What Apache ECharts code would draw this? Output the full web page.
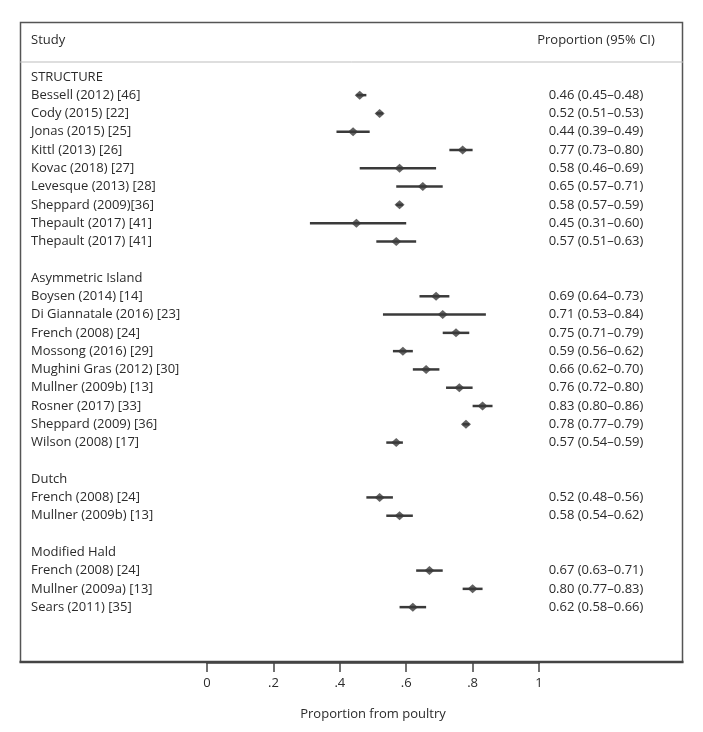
<!DOCTYPE html>
<html>
<head>
<meta charset="utf-8">
<script src="https://cdn.jsdelivr.net/npm/echarts@6/dist/echarts.min.js"></script>
<style>html,body{margin:0;padding:0;background:#fff}#c{width:703px;height:732px}</style>
</head>
<body>
<div id="c"></div>
<script>
// ---- data ----
var groupNames = ['STRUCTURE', 'Asymmetric Island', 'Dutch', 'Modified Hald'];
var studyNames = [
  'Bessell (2012) [46]', 'Cody (2015) [22]', 'Jonas (2015) [25]', 'Kittl (2013) [26]',
  'Kovac (2018) [27]', 'Levesque (2013) [28]', 'Sheppard (2009)[36]', 'Thepault (2017) [41]',
  'Thepault (2017) [41]',
  'Boysen (2014) [14]', 'Di Giannatale (2016) [23]', 'French (2008) [24]', 'Mossong (2016) [29]',
  'Mughini Gras (2012) [30]', 'Mullner (2009b) [13]', 'Rosner (2017) [33]', 'Sheppard (2009) [36]',
  'Wilson (2008) [17]',
  'French (2008) [24]', 'Mullner (2009b) [13]',
  'French (2008) [24]', 'Mullner (2009a) [13]', 'Sears (2011) [35]'
];
var studyGroup = [0,0,0,0,0,0,0,0,0, 1,1,1,1,1,1,1,1,1, 2,2, 3,3,3];
var estimate = [0.46,0.52,0.44,0.77,0.58,0.65,0.58,0.45,0.57, 0.69,0.71,0.75,0.59,0.66,0.76,0.83,0.78,0.57, 0.52,0.58, 0.67,0.80,0.62];
var lower    = [0.45,0.51,0.39,0.73,0.46,0.57,0.57,0.31,0.51, 0.64,0.53,0.71,0.56,0.62,0.72,0.80,0.77,0.54, 0.48,0.54, 0.63,0.77,0.58];
var upper    = [0.48,0.53,0.49,0.80,0.69,0.71,0.59,0.60,0.63, 0.73,0.84,0.79,0.62,0.70,0.80,0.86,0.79,0.59, 0.56,0.62, 0.71,0.83,0.66];
var xTicks = [0, 0.2, 0.4, 0.6, 0.8, 1];
var xTickLabels = ['0', '.2', '.4', '.6', '.8', '1'];
var headerLeft = 'Study';
var headerRight = 'Proportion (95% CI)';
var xTitle = 'Proportion from poultry';

// ---- layout of rows ----
var leftLabels = {}, rightLabels = {};
leftLabels[-2] = headerLeft; rightLabels[-2] = headerRight;
var studyRow = [];
var row = 0, lastGroup = -1;
for (var i = 0; i < studyNames.length; i++) {
  if (studyGroup[i] !== lastGroup) {
    if (lastGroup !== -1) row++; // blank line
    leftLabels[row] = groupNames[studyGroup[i]];
    row++;
    lastGroup = studyGroup[i];
  }
  studyRow.push(row);
  leftLabels[row] = studyNames[i];
  rightLabels[row] = estimate[i].toFixed(2) + ' (' + lower[i].toFixed(2) + '\u2013' + upper[i].toFixed(2) + ')';
  row++;
}
var ciData = [], ptData = [];
for (var j = 0; j < studyNames.length; j++) {
  ciData.push([lower[j], upper[j], studyRow[j]]);
  ptData.push([estimate[j], studyRow[j]]);
}

var FONT = '"Open Sans"';
var FS = 13;
var TXT = '#2b2b2b';
var chart = echarts.init(document.getElementById('c'), null, {renderer: 'canvas'});
chart.setOption({
  animation: false,
  backgroundColor: '#fff',
  grid: {left: 207, right: 164, top: 22, bottom: 70, containLabel: false},
  xAxis: {
    type: 'value', min: 0, max: 1, interval: 0.2, position: 'bottom',
    axisLine: {show: true, onZero: false, lineStyle: {color: '#444', width: 2.5}},
    axisTick: {show: true, inside: false, length: 10, lineStyle: {color: '#444', width: 1.5}},
    splitLine: {show: false},
    axisLabel: {
      margin: 15, color: TXT, fontFamily: FONT, fontSize: FS,
      formatter: function (v) {
        for (var k = 0; k < xTicks.length; k++) if (Math.abs(v - xTicks[k]) < 1e-6) return xTickLabels[k];
        return '';
      }
    },
    name: xTitle, nameLocation: 'middle', nameGap: 46,
    nameTextStyle: {color: TXT, fontFamily: FONT, fontSize: FS}
  },
  yAxis: [{
    type: 'value', inverse: true, min: -3, max: 32, interval: 1, position: 'left',
    axisLine: {show: false, onZero: false}, axisTick: {show: false}, splitLine: {show: false},
    axisLabel: {
      margin: 176, align: 'left', color: TXT, fontFamily: FONT, fontSize: FS,
      formatter: function (v) { return leftLabels[Math.round(v)] || ''; }
    }
  }, {
    type: 'value', inverse: true, min: -3, max: 32, interval: 1, position: 'right',
    axisLine: {show: false, onZero: false}, axisTick: {show: false}, splitLine: {show: false},
    axisLabel: {
      margin: 57, align: 'center', color: TXT, fontFamily: FONT, fontSize: FS,
      formatter: function (v) { return rightLabels[Math.round(v)] || ''; }
    }
  }],
  series: [{
    type: 'custom',
    data: ciData,
    renderItem: function (params, api) {
      var a = api.coord([api.value(0), api.value(2)]);
      var b = api.coord([api.value(1), api.value(2)]);
      return {type: 'line', shape: {x1: a[0], y1: a[1], x2: b[0], y2: b[1]},
        style: {stroke: '#3a3a3a', lineWidth: 2.5}};
    },
    encode: {x: [0, 1], y: 2},
    z: 2
  }, {
    type: 'scatter',
    data: ptData,
    symbol: 'diamond', symbolSize: [10, 9],
    itemStyle: {color: '#3a3a3a'},
    z: 3
  }],
  graphic: [
    {type: 'rect', shape: {x: 20.5, y: 22.5, width: 662, height: 639.5},
      style: {fill: null, stroke: '#555', lineWidth: 1.5}, silent: true, z: -1},
    {type: 'line', shape: {x1: 20, y1: 62, x2: 683, y2: 62},
      style: {stroke: '#bdbdbd', lineWidth: 1}, silent: true, z: -1},
    {type: 'line', shape: {x1: 19.5, y1: 662, x2: 683.5, y2: 662},
      style: {stroke: '#444', lineWidth: 2.5}, silent: true, z: -1}
  ]
});
</script>
</body>
</html>
